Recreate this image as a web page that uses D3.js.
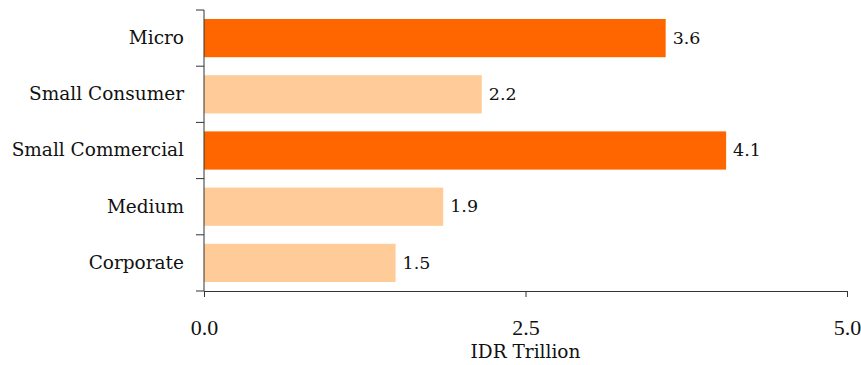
<!DOCTYPE html>
<html lang="en">
<head>
<meta charset="UTF-8">
<title>Loan growth by segment</title>
<style>
  body { margin: 0; background: #fff; }
  svg { display: block; }
  .cat { font-family: "DejaVu Serif", serif; font-size: 18.5px; fill: #111; }
  .val { font-family: "DejaVu Serif", serif; font-size: 17.5px; fill: #111; }
  .tick text { font-family: "Liberation Serif", serif; font-size: 22px; fill: #111; }
  .title { font-family: "DejaVu Serif", serif; font-size: 18.5px; fill: #111; }
</style>
</head>
<body>
<svg id="chart" width="861" height="365"></svg>
<script src="https://d3js.org/d3.v7.min.js"></script>
<script>
// data
const categories = ["Micro", "Small Consumer", "Small Commercial", "Medium", "Corporate"];
const values = [3.59, 2.16, 4.06, 1.86, 1.49];
const highlight = [true, false, true, false, false];
const xTicks = [0, 2.5, 5];

const width = 861, height = 365;
const margin = {top: 10, right: 14, bottom: 74, left: 204};

const svg = d3.select("#chart");

const x = d3.scaleLinear()
  .domain([0, 5])
  .range([margin.left, width - margin.right]);

const y = d3.scaleBand()
  .domain(categories)
  .range([margin.top, height - margin.bottom])
  .paddingInner(0.32)
  .paddingOuter(0.16);

// bars
svg.append("g")
  .selectAll("rect")
  .data(categories)
  .join("rect")
  .attr("x", x(0))
  .attr("y", d => y(d))
  .attr("width", (d, i) => x(values[i]) - x(0))
  .attr("height", y.bandwidth())
  .attr("fill", (d, i) => highlight[i] ? "#ff6600" : "#ffcc99");

// value labels
svg.append("g")
  .selectAll("text")
  .data(categories)
  .join("text")
  .attr("class", "val")
  .attr("x", (d, i) => x(values[i]) + 7)
  .attr("y", d => y(d) + y.bandwidth() / 2)
  .attr("dy", "0.32em")
  .text((d, i) => d3.format(".1f")(values[i]));

// x axis
const xAxis = svg.append("g")
  .attr("transform", `translate(0,${height - margin.bottom})`)
  .call(d3.axisBottom(x).tickValues(xTicks).tickFormat(d3.format(".1f")).tickSize(6).tickSizeOuter(0));
xAxis.select(".domain").attr("stroke", "#333");
xAxis.selectAll(".tick line").attr("stroke", "#333");
xAxis.selectAll(".tick text").attr("y", 44).attr("dy", 0);

// y axis: ticks sit between categories
const yAxis = svg.append("g")
  .attr("transform", `translate(${margin.left},0)`);
yAxis.append("line")
  .attr("y1", margin.top).attr("y2", height - margin.bottom)
  .attr("stroke", "#333");
const bounds = categories.map(c => y(c) - y.step() * y.paddingInner() / 2);
bounds.push(height - margin.bottom);
bounds[0] = margin.top;
yAxis.selectAll(".yt")
  .data(bounds)
  .join("line")
  .attr("x1", -8).attr("x2", 0)
  .attr("y1", d => d).attr("y2", d => d)
  .attr("stroke", "#333");

// category labels
svg.append("g")
  .selectAll("text")
  .data(categories)
  .join("text")
  .attr("class", "cat")
  .attr("x", margin.left - 20)
  .attr("y", d => y(d) + y.bandwidth() / 2)
  .attr("dy", "0.32em")
  .attr("text-anchor", "end")
  .text(d => d);

// axis title
svg.append("text")
  .attr("class", "title")
  .attr("x", (x(0) + x(5)) / 2)
  .attr("y", 358)
  .attr("text-anchor", "middle")
  .text("IDR Trillion");
</script>
</body>
</html>
